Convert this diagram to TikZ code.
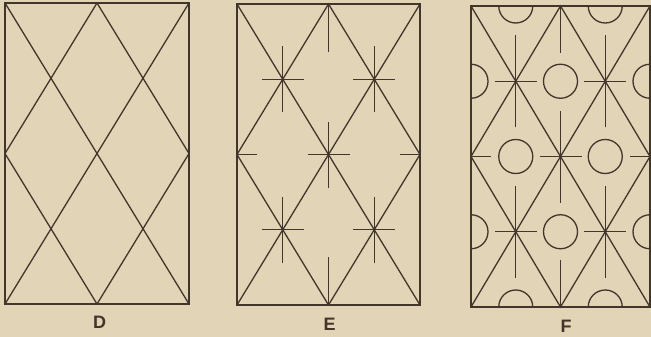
\documentclass[tikz,border=0pt]{standalone}
\usepackage{fontspec}
\setsansfont{Liberation Sans}
\usepackage{tikz}
\usetikzlibrary{positioning}
\definecolor{PaperTan}{RGB}{226,212,183}
\definecolor{InkBrown}{RGB}{66,53,42}

\begin{document}
\begin{tikzpicture}[
  x=1pt, y=-1pt,
  frame/.style={draw=InkBrown, line width=2.3pt},
  lattice/.style={draw=InkBrown, line width=1.3pt},
  arm/.style={draw=InkBrown, line width=1.1pt},
  ring/.style={draw=InkBrown, line width=1.3pt},
  lab/.style={font=\sffamily\bfseries\fontsize{18}{18}\selectfont, text=InkBrown, inner sep=0pt},
]
  \fill[PaperTan] (0,0) rectangle (651,337);
  \useasboundingbox (0,0) rectangle (651,337);

  % D: plain diamonds
  \begin{scope}[shift={(5,3)}, x=46pt, y=-75.25pt]
    \draw[lattice] (0,0) -- (4,4) (4,0) -- (0,4)
      (2,0) -- (0,2) -- (2,4) -- (4,2) -- cycle;
    \draw[frame, line width=2.8pt] (0,0) rectangle (4,4);
  \end{scope}

  % E: diamonds with crosses
  \begin{scope}[shift={(237,4)}, x=45.75pt, y=-75.25pt]
    \draw[lattice] (0,0) -- (4,4) (4,0) -- (0,4)
      (2,0) -- (0,2) -- (2,4) -- (4,2) -- cycle;
    \foreach \cx/\cy in {1/1, 3/1, 2/2, 1/3, 3/3}
      \draw[arm] (\cx,\cy) ++(-21pt,0) -- ++(42pt,0)
        (\cx,\cy) ++(0,-33pt) -- ++(0,66pt);
    \draw[arm] (2,0) -- ++(0,-48pt) (2,4) -- ++(0,48pt)
      (0,2) -- ++(20pt,0) (4,2) -- ++(-20pt,0);
    \draw[frame] (0,0) rectangle (4,4);
  \end{scope}

  % F: diamonds with crosses and rings
  \begin{scope}[shift={(471,6)}, x=44.75pt, y=-75.25pt]
    \draw[lattice] (0,0) -- (4,4) (4,0) -- (0,4)
      (2,0) -- (0,2) -- (2,4) -- (4,2) -- cycle;
    \foreach \cx/\cy in {1/1, 3/1, 2/2, 1/3, 3/3}
      \draw[arm] (\cx,\cy) ++(-21pt,0) -- ++(42pt,0)
        (\cx,\cy) ++(0,-46pt) -- ++(0,92pt);
    \draw[arm] (2,0) -- ++(0,-47pt) (2,4) -- ++(0,47pt)
      (0,2) -- ++(20pt,0) (4,2) -- ++(-20pt,0);
    \foreach \cx/\cy in {2/1, 1/2, 3/2, 2/3}
      \draw[ring] (\cx,\cy) circle[radius=17pt];
    \foreach \cx in {1, 3} {
      \draw[ring] (\cx,0) ++(17pt,0) arc[start angle=0, end angle=-180, radius=17pt];
      \draw[ring] (\cx,4) ++(17pt,0) arc[start angle=0, end angle=180, radius=17pt];
    }
    \foreach \cy in {1, 3} {
      \draw[ring] (0,\cy) ++(0,17pt) arc[start angle=90, end angle=-90, radius=17pt];
      \draw[ring] (4,\cy) ++(0,17pt) arc[start angle=90, end angle=270, radius=17pt];
    }
    \draw[frame] (0,0) rectangle (4,4);
  \end{scope}

  \node[lab] (labD) at (99.5,322.5) {D};
  \node[lab] (labE) at (329.5,324.5) {E};
  \node[lab] (labF) at (566,326.5) {F};
\end{tikzpicture}
\end{document}
